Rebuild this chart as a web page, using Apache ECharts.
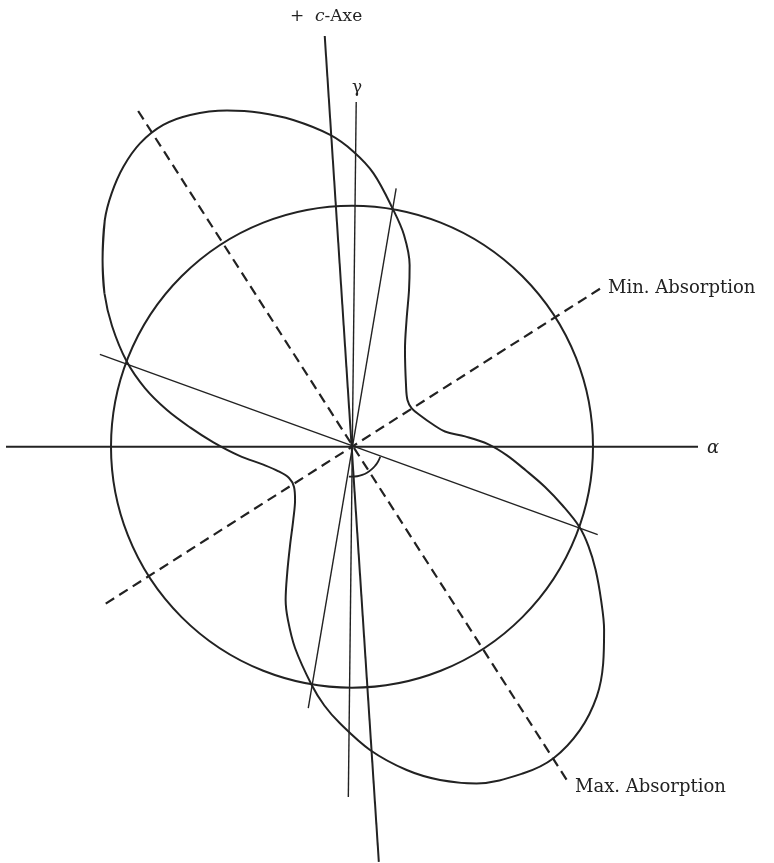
<!DOCTYPE html>
<html>
<head>
<meta charset="utf-8">
<script src="https://cdn.jsdelivr.net/npm/echarts@6/dist/echarts.min.js"></script>
<style>
  html, body { margin: 0; padding: 0; background: #fff; }
  #chart { width: 774px; height: 863px; }
</style>
</head>
<body>
<div id="chart"></div>
<script>
// Absorption curve of the section, polar samples: angle (deg, counter-clockwise from alpha) and radius
const curveAngles = [1.1, 5.2, 9.3, 15.3, 24.0, 32.7, 40.1, 48.8, 61.3, 66.7, 70.0, 72.4, 76.2, 80.1, 85.5, 89.7, 94.0, 100.2, 105.4, 110.4, 116.0, 120.4, 124.9, 129.2, 133.5, 137.5, 143.2, 148.2, 153.3, 159.3, 164.2, 168.8, 173.2, 178.1, 184.5, 191.7, 198.2, 206.4, 214.8, 223.1, 231.3, 237.8, 242.7, 246.6, 249.7, 254.2, 260.4, 263.9, 267.5, 273.4, 279.6, 284.8, 290.3, 297.7, 302.9, 308.8, 314.4, 319.2, 324.0, 328.4, 333.2, 337.2, 340.6, 344.3, 348.2, 352.2, 356.8];
const curveRadii  = [136.0, 113.5, 94.2, 84.0, 75.5, 71.0, 72.5, 82.0, 110.3, 137.9, 166.7, 190.6, 218.0, 240.3, 274.2, 295.0, 312.5, 331.9, 346.4, 358.6, 369.1, 373.0, 370.1, 361.5, 349.2, 335.3, 311.5, 291.3, 268.6, 240.8, 215.2, 188.6, 163.1, 139.1, 113.3, 89.9, 77.9, 70.3, 70.6, 78.0, 94.0, 116.2, 141.1, 167.1, 184.7, 209.2, 241.7, 260.3, 276.9, 303.8, 327.9, 344.7, 359.0, 368.8, 371.0, 363.7, 349.8, 331.8, 311.6, 292.4, 272.9, 256.5, 241.0, 219.2, 197.2, 175.6, 155.2];

// Reference circle radius and outer extent of the drawing (same units as the curve)
const circleRadius = 241;
const outerRadius = 420;

// Straight directions through the centre: [angle, length] for both ends
const alphaAxis   = [[0, 346], [180, 346]];
const cAxis       = [[93.8, 411.6], [273.7, 416]];
const gammaAxis   = [[89.3, 344.7], [269.4, 350.3]];
const sectionA    = [[80.3, 262], [260.5, 265]];
const sectionB    = [[159.9, 268.5], [340.3, 261]];
const minAbsorption = [[32.5, 294], [212.5, 292]];
const maxAbsorption = [[122.5, 398], [302.8, 398.5]];

// Angle mark between gamma (downwards) and section B
const arcAngles = [264, 270, 280, 290, 300, 310, 320, 330, 340.3];
const arcRadius = 30;

const ink = '#222';
const center = [352, 446.7];

function ends(pairs) {
  return pairs.map(p => [p[1], p[0]]);
}

function lineSeries(data, width, dashed) {
  return {
    type: 'line',
    coordinateSystem: 'polar',
    polarIndex: 1,
    data: data,
    symbol: 'none',
    clip: false,
    silent: true,
    lineStyle: {
      color: ink,
      width: width,
      type: dashed ? [10, 6] : 'solid',
      cap: 'butt',
      join: 'round'
    }
  };
}

// Closed curve: walk once round starting on the straight left flank of the upper lobe,
// overlapping one sample at each end so the smoothing has neighbours there.
const seam = curveAngles.indexOf(143.2);
const n = curveAngles.length;
const curveData = [];
for (let k = -1; k <= n + 1; k++) {
  const i = ((seam + k) % n + n) % n;
  const turn = Math.floor((seam + k) / n) * 360;
  curveData.push([curveRadii[i], curveAngles[i] + turn]);
}
const arcData = arcAngles.map(a => [arcRadius, a]);

const chart = echarts.init(document.getElementById('chart'), null, { renderer: 'canvas' });

const serif = '"DejaVu Serif", "Liberation Serif", serif';
const hiddenAxis = {
  axisLine: { show: false }, axisTick: { show: false },
  axisLabel: { show: false }, splitLine: { show: false }
};

chart.setOption({
  animation: false,
  backgroundColor: '#fff',
  polar: [
    { center: center, radius: circleRadius },
    { center: center, radius: outerRadius }
  ],
  radiusAxis: [
    Object.assign({ polarIndex: 0, type: 'value', min: 0, max: circleRadius }, hiddenAxis),
    Object.assign({ polarIndex: 1, type: 'value', min: 0, max: outerRadius }, hiddenAxis)
  ],
  angleAxis: [
    {
      polarIndex: 0, type: 'value', min: 0, max: 360, startAngle: 0, clockwise: false,
      axisLine: { show: true, lineStyle: { color: ink, width: 2 } },
      axisTick: { show: false }, axisLabel: { show: false }, splitLine: { show: false }
    },
    Object.assign({ polarIndex: 1, type: 'value', min: 0, max: 360, startAngle: 0, clockwise: false }, hiddenAxis)
  ],
  series: [
    lineSeries(ends(alphaAxis), 2, false),
    lineSeries(ends(cAxis), 2, false),
    lineSeries(ends(gammaAxis), 1.4, false),
    lineSeries(ends(sectionA), 1.4, false),
    lineSeries(ends(sectionB), 1.4, false),
    lineSeries(ends(minAbsorption), 2.2, true),
    lineSeries(ends(maxAbsorption), 2.2, true),
    Object.assign(lineSeries(curveData, 2, false), { smooth: 0.35 }),
    Object.assign(lineSeries(arcData, 1.8, false), { smooth: true })
  ],
  graphic: [
    {
      type: 'text', x: 290, y: 17,
      style: {
        text: '{n|+  }{i|c}{n|-Axe}',
        fill: ink, align: 'left', verticalAlign: 'middle',
        rich: {
          n: { fontFamily: serif, fontSize: 17, fill: ink },
          i: { fontFamily: serif, fontSize: 17, fontStyle: 'italic', fill: ink }
        }
      }
    },
    {
      type: 'text', x: 357, y: 88,
      style: { text: 'γ', fontFamily: serif, fontSize: 17, fill: ink, align: 'center', verticalAlign: 'middle' }
    },
    {
      type: 'text', x: 608, y: 288,
      style: { text: 'Min. Absorption', fontFamily: serif, fontSize: 18, fill: ink, align: 'left', verticalAlign: 'middle' }
    },
    {
      type: 'text', x: 575, y: 787,
      style: { text: 'Max. Absorption', fontFamily: serif, fontSize: 18, fill: ink, align: 'left', verticalAlign: 'middle' }
    },
    {
      type: 'text', x: 713, y: 448,
      style: { text: 'α', fontFamily: serif, fontSize: 18, fontStyle: 'italic', fill: ink, align: 'center', verticalAlign: 'middle' }
    }
  ]
});
</script>
</body>
</html>
